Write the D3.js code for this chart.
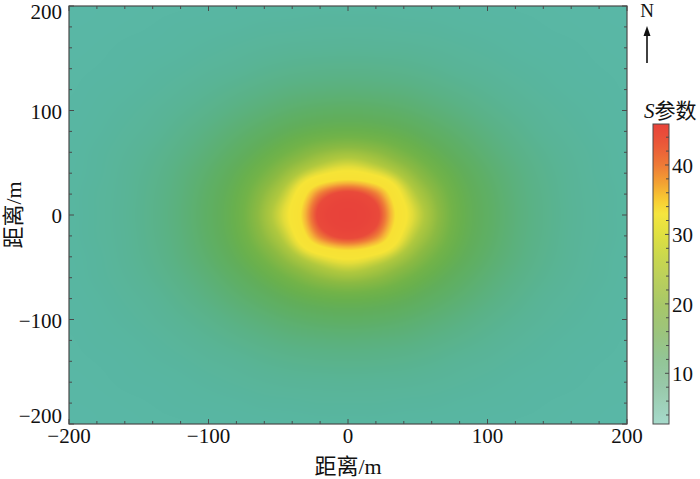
<!DOCTYPE html>
<html>
<head>
<meta charset="utf-8">
<script src="https://cdn.jsdelivr.net/npm/d3@7"></script>
<style>
html,body{margin:0;padding:0;background:#fff;}
svg{display:block;}
</style>
</head>
<body>
<div id="chart"></div>
<script>
// ---------- DATA ----------
// Grid nodes (metres), east (x) and north (y)
const xNodes = [-200,-180,-160,-140,-120,-100,-80,-60,-40,-20,0,20,40,60,80,100,120,140,160,180,200];
const yNodes = [200,180,160,140,120,100,80,60,40,20,0,-20,-40,-60,-80,-100,-120,-140,-160,-180,-200];
// S parameter values, one row per yNodes entry (top to bottom), one column per xNodes entry
const row200  = [6.0,6.2,6.3,6.5,6.6,6.8,7.0,7.1,7.2,7.3,7.3,7.3,7.2,7.1,7.0,6.8,6.6,6.5,6.3,6.2,6.0];
const row180  = [6.2,6.3,6.5,6.7,7.0,7.2,7.4,7.7,7.8,8.0,8.0,8.0,7.8,7.7,7.4,7.2,7.0,6.7,6.5,6.3,6.2];
const row160  = [6.3,6.5,6.8,7.0,7.3,7.7,8.1,8.5,8.8,8.9,9.0,8.9,8.8,8.5,8.1,7.7,7.3,7.0,6.8,6.5,6.3];
const row140  = [6.5,6.7,7.0,7.4,7.8,8.4,8.9,9.6,10.1,10.4,10.5,10.4,10.1,9.6,8.9,8.4,7.8,7.4,7.0,6.7,6.5];
const row120  = [6.6,7.0,7.3,7.8,8.5,9.3,10.2,11.1,11.9,12.3,12.5,12.3,11.9,11.1,10.2,9.3,8.5,7.8,7.3,7.0,6.6];
const row100  = [6.8,7.2,7.7,8.4,9.3,10.4,11.7,13.0,14.3,15.2,15.5,15.2,14.3,13.0,11.7,10.4,9.3,8.4,7.7,7.2,6.8];
const row80   = [7.0,7.4,8.1,8.9,10.2,11.7,13.5,15.5,17.6,19.0,19.5,19.0,17.6,15.5,13.5,11.7,10.2,8.9,8.1,7.4,7.0];
const row60   = [7.1,7.7,8.5,9.6,11.1,13.0,15.5,18.5,21.6,24.3,25.5,24.3,21.6,18.5,15.5,13.0,11.1,9.6,8.5,7.7,7.1];
const row40   = [7.2,7.8,8.8,10.1,11.9,14.3,17.6,21.6,26.0,30.0,32.0,30.0,26.0,21.6,17.6,14.3,11.9,10.1,8.8,7.8,7.2];
const row20   = [7.3,8.0,8.9,10.4,12.3,15.2,19.0,24.3,30.0,40.5,44.0,40.5,30.0,24.3,19.0,15.2,12.3,10.4,8.9,8.0,7.3];
const row0    = [7.3,8.0,9.0,10.5,12.5,15.5,19.5,25.5,32.0,44.0,46.0,44.0,32.0,25.5,19.5,15.5,12.5,10.5,9.0,8.0,7.3];
const rowM20  = [7.3,8.0,8.9,10.4,12.3,15.2,19.0,24.3,30.0,40.5,44.0,40.5,30.0,24.3,19.0,15.2,12.3,10.4,8.9,8.0,7.3];
const rowM40  = [7.2,7.8,8.8,10.1,11.9,14.3,17.6,21.6,26.0,30.0,32.0,30.0,26.0,21.6,17.6,14.3,11.9,10.1,8.8,7.8,7.2];
const rowM60  = [7.1,7.7,8.5,9.6,11.1,13.0,15.5,18.5,21.6,24.3,25.5,24.3,21.6,18.5,15.5,13.0,11.1,9.6,8.5,7.7,7.1];
const rowM80  = [7.0,7.4,8.1,8.9,10.2,11.7,13.5,15.5,17.6,19.0,19.5,19.0,17.6,15.5,13.5,11.7,10.2,8.9,8.1,7.4,7.0];
const rowM100 = [6.8,7.2,7.7,8.4,9.3,10.4,11.7,13.0,14.3,15.2,15.5,15.2,14.3,13.0,11.7,10.4,9.3,8.4,7.7,7.2,6.8];
const rowM120 = [6.6,7.0,7.3,7.8,8.5,9.3,10.2,11.1,11.9,12.3,12.5,12.3,11.9,11.1,10.2,9.3,8.5,7.8,7.3,7.0,6.6];
const rowM140 = [6.5,6.7,7.0,7.4,7.8,8.4,8.9,9.6,10.1,10.4,10.5,10.4,10.1,9.6,8.9,8.4,7.8,7.4,7.0,6.7,6.5];
const rowM160 = [6.3,6.5,6.8,7.0,7.3,7.7,8.1,8.5,8.8,8.9,9.0,8.9,8.8,8.5,8.1,7.7,7.3,7.0,6.8,6.5,6.3];
const rowM180 = [6.2,6.3,6.5,6.7,7.0,7.2,7.4,7.7,7.8,8.0,8.0,8.0,7.8,7.7,7.4,7.2,7.0,6.7,6.5,6.3,6.2];
const rowM200 = [6.0,6.2,6.3,6.5,6.6,6.8,7.0,7.1,7.2,7.3,7.3,7.3,7.2,7.1,7.0,6.8,6.6,6.5,6.3,6.2,6.0];

const xTicks = [-200,-100,0,100,200];
const yTicks = [-200,-100,0,100,200];
const cbTicks = [10,20,30,40];
const cbDomain = [2.7, 45.9];

// colour map of the field
const fieldStops  = [5, 7, 9, 11, 13, 15, 17, 19, 21, 24, 27, 29.5, 31, 35.5, 38, 40.5, 43, 47];
const fieldColors = ['#5bb9ab','#58b6a2','#59b496','#5ab287','#5cb076','#5eaf66','#61ae5a','#68b04e','#72b348','#8cba42','#b0c83e','#e2dc3a','#f6e436','#f8e034','#f5b238','#ee7a38','#e94a3a','#e8403a'];
// colour bar
const barStops  = [2.7, 8, 12, 16, 20, 24, 27, 30, 33, 35, 37, 40, 43, 45.9];
const barColors = ['#a6dacb','#98c9aa','#92c596','#9cc47c','#a8c868','#bcd05a','#cbd84c','#dfe040','#f5e53e','#f8cc32','#f4a832','#ee7a36','#ea5838','#e8423a'];

const grid = [row200,row180,row160,row140,row120,row100,row80,row60,row40,row20,row0,
              rowM20,rowM40,rowM60,rowM80,rowM100,rowM120,rowM140,rowM160,rowM180,rowM200];

// ---------- LAYOUT ----------
const W = 700, H = 479;
const plot = {left: 69, right: 627, top: 6, bottom: 424};
const cb = {left: 653, right: 669, top: 124, bottom: 424};
const serif = "'Liberation Serif','Times New Roman',serif";
const cjk = "'Liberation Serif','Noto Sans CJK SC',serif";

const svg = d3.select('#chart').append('svg').attr('width', W).attr('height', H);
svg.append('rect').attr('width', W).attr('height', H).attr('fill', '#fff');

const x = d3.scaleLinear().domain([-200, 200]).range([plot.left, plot.right]);
const y = d3.scaleLinear().domain([-200, 200]).range([plot.bottom, plot.top]);
const fieldColor = d3.scaleLinear().domain(fieldStops).range(fieldColors).clamp(true);
const barColor = d3.scaleLinear().domain(barStops).range(barColors).clamp(true);

// node index scales
const gi = d3.scaleLinear().domain([xNodes[0], xNodes[xNodes.length-1]]).range([0, xNodes.length-1]);
const gj = d3.scaleLinear().domain([yNodes[0], yNodes[yNodes.length-1]]).range([0, yNodes.length-1]);

// ---------- FIELD (smooth raster through the grid) ----------
function cr(p0,p1,p2,p3,t){
  return 0.5*((2*p1)+(-p0+p2)*t+(2*p0-5*p1+4*p2-p3)*t*t+(-p0+3*p1-3*p2+p3)*t*t*t);
}
const nI = xNodes.length, nJ = yNodes.length;
function g(j,i){ i=Math.max(0,Math.min(nI-1,i)); j=Math.max(0,Math.min(nJ-1,j)); return grid[j][i]; }
function sample(fi,fj){
  const i=Math.floor(fi), j=Math.floor(fj), ti=fi-i, tj=fj-j;
  const r=[];
  for(let k=-1;k<=2;k++) r.push(cr(g(j+k,i-1),g(j+k,i),g(j+k,i+1),g(j+k,i+2),ti));
  return cr(r[0],r[1],r[2],r[3],tj);
}
const pw = plot.right-plot.left, ph = plot.bottom-plot.top;
const canvas = document.createElement('canvas');
canvas.width = pw; canvas.height = ph;
const ctx = canvas.getContext('2d');
const img = ctx.createImageData(pw, ph);
for(let py=0; py<ph; py++){
  const my = y.invert(plot.top+py+0.5);
  const fj = gj(my);
  for(let px=0; px<pw; px++){
    const mx = x.invert(plot.left+px+0.5);
    const v = sample(gi(mx), fj);
    const c = d3.rgb(fieldColor(v));
    const o = (py*pw+px)*4;
    img.data[o]=c.r; img.data[o+1]=c.g; img.data[o+2]=c.b; img.data[o+3]=255;
  }
}
ctx.putImageData(img,0,0);
svg.append('image').attr('x', plot.left).attr('y', plot.top)
  .attr('width', pw).attr('height', ph)
  .attr('preserveAspectRatio','none')
  .attr('href', canvas.toDataURL());

// ---------- AXES ----------
const axisCol = '#4a4a4a';
const minorX = d3.range(-200, 201, 20);
const minorY = d3.range(-200, 201, 20);
const tk = svg.append('g').attr('stroke', axisCol).attr('stroke-width', 1);
minorX.forEach(v=>{
  const L = xTicks.includes(v) ? 5 : 3;
  tk.append('line').attr('x1',x(v)).attr('x2',x(v)).attr('y1',plot.bottom).attr('y2',plot.bottom-L);
  tk.append('line').attr('x1',x(v)).attr('x2',x(v)).attr('y1',plot.top).attr('y2',plot.top+L);
});
minorY.forEach(v=>{
  const L = yTicks.includes(v) ? 5 : 3;
  tk.append('line').attr('y1',y(v)).attr('y2',y(v)).attr('x1',plot.left).attr('x2',plot.left+L);
  tk.append('line').attr('y1',y(v)).attr('y2',y(v)).attr('x1',plot.right).attr('x2',plot.right-L);
});
svg.append('rect').attr('x',plot.left).attr('y',plot.top).attr('width',pw).attr('height',ph)
  .attr('fill','none').attr('stroke',axisCol).attr('stroke-width',1.2);

const fmt = d3.format('d');
svg.append('g').selectAll('text').data(xTicks).join('text')
  .attr('x', d=>x(d)).attr('y', 443)
  .attr('text-anchor','middle').attr('font-family',serif).attr('font-size',21).attr('fill','#111')
  .text(d=>fmt(d));
svg.append('g').selectAll('text').data(yTicks).join('text')
  .attr('x', 62).attr('y', d=>Math.max(12, Math.min(416, y(d)+1)))
  .attr('dominant-baseline','central')
  .attr('text-anchor','end').attr('font-family',serif).attr('font-size',21).attr('fill','#111')
  .text(d=>fmt(d));

svg.append('text').attr('x', (plot.left+plot.right)/2).attr('y', 474)
  .attr('text-anchor','middle').attr('font-family',cjk).attr('font-size',22).attr('fill','#111')
  .text('距离/m');
svg.append('text').attr('transform',`translate(21,${(plot.top+plot.bottom)/2}) rotate(-90)`)
  .attr('text-anchor','middle').attr('font-family',cjk).attr('font-size',22).attr('fill','#111')
  .text('距离/m');

// ---------- NORTH ARROW ----------
svg.append('text').attr('x',647).attr('y',17).attr('text-anchor','middle')
  .attr('font-family',serif).attr('font-size',19).attr('fill','#111').text('N');
svg.append('line').attr('x1',647).attr('x2',647).attr('y1',63).attr('y2',34)
  .attr('stroke','#111').attr('stroke-width',1.6);
svg.append('path').attr('d','M647,26 L650.5,36 L643.5,36 Z').attr('fill','#111');

// ---------- COLOUR BAR ----------
const cbScale = d3.scaleLinear().domain(cbDomain).range([cb.bottom, cb.top]);
const defs = svg.append('defs');
const grad = defs.append('linearGradient').attr('id','cbgrad')
  .attr('x1',0).attr('y1',1).attr('x2',0).attr('y2',0);
d3.range(0, 1.0001, 0.02).forEach(t=>{
  const v = cbDomain[0] + t*(cbDomain[1]-cbDomain[0]);
  grad.append('stop').attr('offset', t).attr('stop-color', barColor(v));
});
svg.append('rect').attr('x',cb.left).attr('y',cb.top).attr('width',cb.right-cb.left).attr('height',cb.bottom-cb.top)
  .attr('fill','url(#cbgrad)').attr('stroke',axisCol).attr('stroke-width',1);
const cbMinor = d3.range(4, 46, 2);
svg.append('g').attr('stroke',axisCol).attr('stroke-width',1).selectAll('line').data(cbMinor).join('line')
  .attr('x1',cb.right).attr('x2',d=>cb.right-(cbTicks.includes(d)?4:3))
  .attr('y1',d=>cbScale(d)).attr('y2',d=>cbScale(d));
svg.append('g').selectAll('text').data(cbTicks).join('text')
  .attr('x', 672).attr('y', d=>cbScale(d)+1).attr('dominant-baseline','central')
  .attr('font-family',serif).attr('font-size',21).attr('fill','#111').text(d=>fmt(d));
const ttl = svg.append('text').attr('x',644).attr('y',118).attr('font-family',cjk).attr('font-size',21).attr('fill','#111');
ttl.append('tspan').attr('font-style','italic').text('S');
ttl.append('tspan').text('参数');
</script>
</body>
</html>
